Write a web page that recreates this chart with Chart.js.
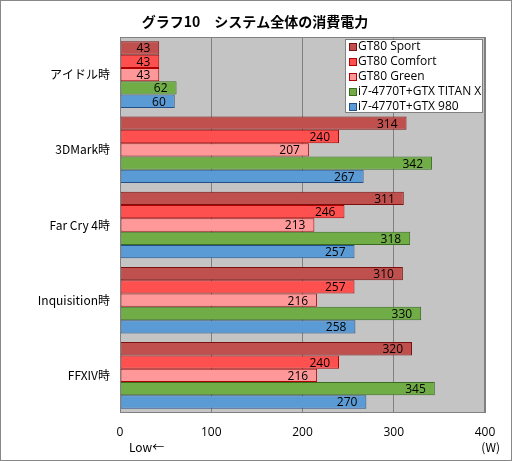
<!DOCTYPE html>
<html>
<head>
<meta charset="utf-8">
<script src="https://cdn.jsdelivr.net/npm/chart.js@4/dist/chart.umd.min.js"></script>
<style>
  html, body { margin: 0; padding: 0; background: #fff; }
  canvas { display: block; }
</style>
</head>
<body>
<canvas id="chart" width="512" height="461"></canvas>
<script>
// ── DATA ──────────────────────────────────────────────
const categories = ['アイドル時', '3DMark時', 'Far Cry 4時', 'Inquisition時', 'FFXIV時'];
const seriesNames = ['GT80 Sport', 'GT80 Comfort', 'GT80 Green', 'i7-4770T+GTX TITAN X', 'i7-4770T+GTX 980'];
const gt80Sport   = [43, 314, 311, 310, 320];
const gt80Comfort = [43, 240, 246, 257, 240];
const gt80Green   = [43, 207, 213, 216, 216];
const titanX      = [62, 342, 318, 330, 345];
const gtx980      = [60, 267, 257, 258, 270];
const xTicks      = [0, 100, 200, 300, 400];

const TITLE = 'グラフ10　システム全体の消費電力';
const FONT_JP = '"Noto Sans CJK JP", "Noto Sans", sans-serif';
const FONT_NUM = '"Open Sans", "Noto Sans", sans-serif';

const fills   = ['#c0504d', '#ff5050', '#ff9999', '#70ad47', '#5b9bd5'];
const borders = ['#7a1010', '#b00000', '#b00000', '#3b6b20', '#24508a'];

// ── PLUGINS ───────────────────────────────────────────
const framePlugin = {
  id: 'frame',
  beforeDraw(chart) {
    const { ctx, chartArea: a } = chart;
    ctx.save();
    ctx.fillStyle = '#fff';
    ctx.fillRect(0, 0, chart.width, chart.height);
    ctx.strokeStyle = '#888';
    ctx.lineWidth = 1;
    ctx.strokeRect(0.5, 0.5, chart.width - 1, chart.height - 1);
    ctx.fillStyle = '#c4c4c4';
    ctx.fillRect(a.left, a.top, a.right - a.left, a.bottom - a.top);
    ctx.restore();
  },
  afterDraw(chart) {
    const { ctx, chartArea: a } = chart;
    ctx.save();
    ctx.strokeStyle = '#808080';
    ctx.lineWidth = 1;
    ctx.strokeRect(a.left + 0.5, a.top + 0.5, a.right - a.left - 1, a.bottom - a.top - 1);

    // title
    ctx.fillStyle = '#000';
    ctx.font = 'bold 14px ' + FONT_JP;
    ctx.textAlign = 'center';
    ctx.textBaseline = 'middle';
    ctx.fillText(TITLE, 255, 22);

    // axis notes
    ctx.font = '12px ' + FONT_JP;
    ctx.textAlign = 'left';
    ctx.fillText('Low←', 129, 447);
    ctx.textAlign = 'right';
    ctx.fillText('(W)', 500, 447);

    // legend
    const lx = 345, ly = 39, lw = 138, lh = 74;
    ctx.fillStyle = '#fff';
    ctx.fillRect(lx, ly, lw, lh);
    ctx.strokeStyle = '#808080';
    ctx.strokeRect(lx + 0.5, ly + 0.5, lw - 1, lh - 1);
    ctx.font = '12px ' + FONT_NUM;
    ctx.textAlign = 'left';
    chart.data.datasets.forEach((ds, i) => {
      const y = ly + 8 + i * 15;
      ctx.fillStyle = ds.backgroundColor;
      ctx.fillRect(lx + 5, y - 3, 6, 6);
      ctx.strokeStyle = ds.borderColor;
      ctx.strokeRect(lx + 4.5, y - 3.5, 7, 7);
      ctx.fillStyle = '#000';
      ctx.fillText(ds.label, lx + 13, y);
    });
    ctx.restore();
  },
  afterDatasetsDraw(chart) {
    const { ctx } = chart;
    ctx.save();
    ctx.fillStyle = '#000';
    ctx.font = '12px ' + FONT_NUM;
    ctx.textAlign = 'right';
    ctx.textBaseline = 'middle';
    chart.data.datasets.forEach((ds, i) => {
      chart.getDatasetMeta(i).data.forEach((bar, j) => {
        ctx.fillText(String(ds.data[j]), bar.x - 9, bar.y + 1);
      });
    });
    ctx.restore();
  }
};

const seriesData = [gt80Sport, gt80Comfort, gt80Green, titanX, gtx980];

new Chart(document.getElementById('chart'), {
  type: 'bar',
  data: {
    labels: categories,
    datasets: seriesData.map((d, i) => ({
      label: seriesNames[i],
      data: d,
      backgroundColor: fills[i],
      borderColor: borders[i],
      borderWidth: 1,
      borderSkipped: false,
      categoryPercentage: 0.885,
      barPercentage: 1.0
    }))
  },
  options: {
    indexAxis: 'y',
    responsive: false,
    animation: false,
    devicePixelRatio: 1,
    layout: { padding: { top: 37, right: 27, left: 0, bottom: 0 } },
    plugins: {
      legend: { display: false },
      tooltip: { enabled: false },
      title: { display: false }
    },
    scales: {
      x: {
        min: 0, max: 400,
        afterBuildTicks(scale) { scale.ticks = xTicks.map(v => ({ value: v })); },
        afterFit(scale) { scale.height = 48; },
        grid: { color: '#808080', drawTicks: false },
        border: { display: false },
        ticks: { color: '#000', padding: 12, font: { family: FONT_NUM, size: 12 } }
      },
      y: {
        afterFit(scale) { scale.width = 120; },
        grid: { display: false, drawTicks: false },
        border: { display: false },
        ticks: { color: '#000', padding: 10, font: { family: FONT_JP, size: 12 } }
      }
    }
  },
  plugins: [framePlugin]
});
</script>
</body>
</html>
